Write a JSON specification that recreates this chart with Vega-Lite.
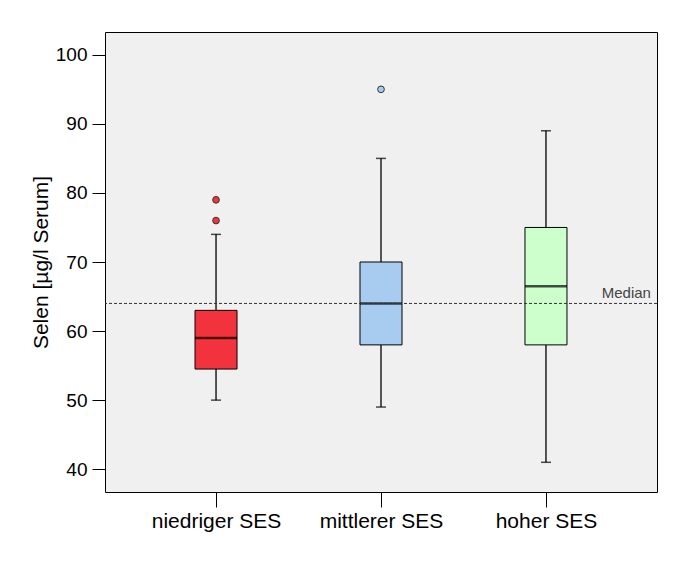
{
  "$schema": "https://vega.github.io/schema/vega-lite/v6.json",
  "width": 552,
  "height": 460,
  "autosize": {"type": "none"},
  "padding": {"left": 105, "top": 32, "right": 17, "bottom": 75},
  "background": "white",
  "datasets": {
    "boxes": [
      {"group": "niedriger SES", "lo": 50, "q1": 54.5, "med": 59, "q3": 63, "hi": 74},
      {"group": "mittlerer SES", "lo": 49, "q1": 58, "med": 64, "q3": 70, "hi": 85},
      {"group": "hoher SES", "lo": 41, "q1": 58, "med": 66.5, "q3": 75, "hi": 89}
    ],
    "outliers": [
      {"group": "niedriger SES", "value": 79},
      {"group": "niedriger SES", "value": 76},
      {"group": "mittlerer SES", "value": 95}
    ],
    "ref": [{"label": "Median", "value": 64, "group": "hoher SES"}]
  },
  "encoding": {
    "x": {
      "field": "group",
      "type": "nominal",
      "sort": ["niedriger SES", "mittlerer SES", "hoher SES"],
      "scale": {"type": "point", "padding": 0.673, "domain": ["niedriger SES", "mittlerer SES", "hoher SES"]},
      "axis": {
        "title": null,
        "domain": false,
        "tickSize": 15,
        "tickColor": "black",
        "tickWidth": 1,
        "labelFontSize": 21,
        "labelFont": "Liberation Sans",
        "labelColor": "black",
        "labelPadding": 3,
        "labelAngle": 0
      }
    }
  },
  "layer": [
    {
      "data": {"name": "boxes"},
      "mark": {"type": "rule", "color": "black", "strokeWidth": 1.3},
      "encoding": {
        "y": {
          "field": "lo",
          "type": "quantitative",
          "scale": {"domain": [36.7, 103.3], "nice": false, "zero": false},
          "axis": {
            "title": "Selen [µg/l Serum]",
            "values": [40, 50, 60, 70, 80, 90, 100],
            "grid": false,
            "domain": false,
            "tickSize": 13,
            "tickColor": "black",
            "labelFontSize": 19,
            "labelFont": "Liberation Sans",
            "labelColor": "black",
            "labelPadding": 5,
            "titleFont": "Liberation Sans",
            "titleFontSize": 21,
            "titleFontWeight": "normal",
            "titleColor": "black",
            "titlePadding": 4
          }
        },
        "y2": {"field": "hi"}
      }
    },
    {
      "data": {"name": "boxes"},
      "mark": {"type": "tick", "color": "black", "size": 10, "thickness": 1.5, "orient": "horizontal"},
      "encoding": {"y": {"field": "lo", "type": "quantitative"}}
    },
    {
      "data": {"name": "boxes"},
      "mark": {"type": "tick", "color": "black", "size": 10, "thickness": 1.5, "orient": "horizontal"},
      "encoding": {"y": {"field": "hi", "type": "quantitative"}}
    },
    {
      "data": {"name": "boxes"},
      "mark": {"type": "bar", "size": 42, "stroke": "black", "strokeWidth": 1, "opacity": 1},
      "encoding": {
        "y": {"field": "q1", "type": "quantitative"},
        "y2": {"field": "q3"},
        "color": {
          "field": "group",
          "type": "nominal",
          "scale": {"domain": ["niedriger SES", "mittlerer SES", "hoher SES"], "range": ["#F2333D", "#A8CCF0", "#CCFFCC"]},
          "legend": null
        }
      }
    },
    {
      "data": {"name": "boxes"},
      "mark": {"type": "tick", "color": "black", "size": 42, "thickness": 2.5, "orient": "horizontal"},
      "encoding": {"y": {"field": "med", "type": "quantitative"}}
    },
    {
      "data": {"name": "outliers"},
      "mark": {"type": "point", "filled": true, "size": 45, "stroke": "#333333", "strokeWidth": 1, "opacity": 1},
      "encoding": {
        "y": {"field": "value", "type": "quantitative"},
        "fill": {
          "field": "group",
          "type": "nominal",
          "scale": {"domain": ["niedriger SES", "mittlerer SES", "hoher SES"], "range": ["#F2333D", "#A8CCF0", "#CCFFCC"]},
          "legend": null
        }
      }
    },
    {
      "data": {"name": "ref"},
      "mark": {"type": "rule", "color": "#333333", "strokeWidth": 1, "strokeDash": [3, 2]},
      "encoding": {"y": {"field": "value", "type": "quantitative"}, "x": null}
    },
    {
      "data": {"name": "ref"},
      "mark": {"type": "text", "align": "right", "baseline": "bottom", "dx": 105, "dy": -2, "fontSize": 15, "font": "Liberation Sans", "color": "#444444"},
      "encoding": {
        "y": {"field": "value", "type": "quantitative"},
        "text": {"field": "label"}
      }
    }
  ],
  "config": {
    "view": {"fill": "#F0F0F0", "stroke": "black", "strokeWidth": 1}
  }
}
